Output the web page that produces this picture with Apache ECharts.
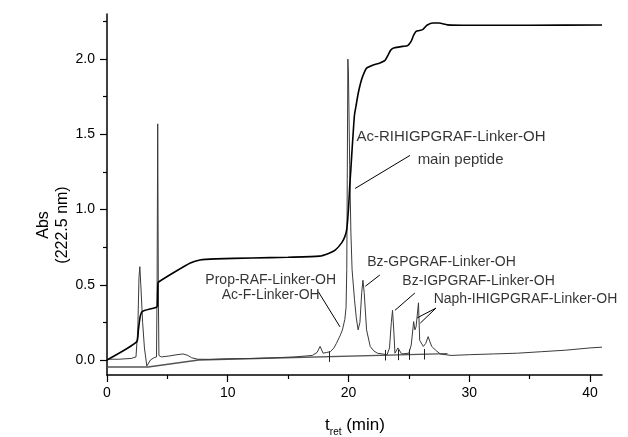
<!DOCTYPE html>
<html><head><meta charset="utf-8">
<script src="https://cdn.jsdelivr.net/npm/echarts@6/dist/echarts.min.js"></script>
<style>html,body{margin:0;padding:0;background:#fff}#c{width:628px;height:437px}</style>
</head><body><div id="c"></div>
<script>
// ---- data ----
const traceTime = [0,1,2,2.4,2.55,2.65,2.72,2.8,2.95,3.1,3.3,3.45,3.6,3.9,4.1,4.15,4.2,4.25,4.3,4.5,5.2,5.8,6.3,6.7,7.0,7.5,8.5,10,12,14,15.5,17,17.4,17.65,17.9,18.2,18.5,18.8,19.0,19.3,19.5,19.7,19.8,19.86,19.9,19.95,20.0,20.1,20.2,20.3,20.5,20.65,20.8,20.95,21.1,21.2,21.3,21.5,21.8,22.1,22.4,22.8,23.2,23.4,23.55,23.65,23.75,23.85,24.1,24.4,25.0,25.2,25.4,25.5,25.6,25.8,25.9,26.2,26.4,26.6,26.75,26.9,27.2,27.6,28.5,30,32,34,36,38,40,41];
const traceAbs  = [0.005,0.005,0.01,0.02,0.2,0.55,0.62,0.5,0.25,0.08,-0.04,-0.03,0.0,0.015,0.02,0.5,1.57,0.5,0.03,0.02,0.027,0.035,0.04,0.03,0.015,0.005,0.004,0.008,0.01,0.015,0.02,0.03,0.05,0.09,0.045,0.05,0.055,0.08,0.11,0.16,0.2,0.27,0.35,0.6,1.2,2.0,1.9,1.3,0.85,0.6,0.4,0.28,0.2,0.25,0.45,0.53,0.45,0.2,0.09,0.06,0.045,0.04,0.035,0.08,0.25,0.33,0.2,0.045,0.08,0.04,0.045,0.1,0.255,0.2,0.22,0.38,0.13,0.09,0.11,0.155,0.12,0.09,0.066,0.04,0.03,0.035,0.04,0.045,0.055,0.065,0.08,0.085];
const integTime = [0,2.45,2.6,2.75,2.9,3.15,3.6,4.1,4.17,4.22,4.3,5.5,6.9,7.7,9,12,15,17.6,18.4,18.9,19.45,19.7,19.86,20.0,20.1,20.2,20.3,20.4,20.5,20.65,20.8,21.0,21.2,21.5,22.0,22.6,23.0,23.3,23.5,23.8,24.5,24.9,25.2,25.4,25.6,25.9,26.2,26.5,27.0,27.5,28.2,30,35,41];
const integAbs  = [0,0.12,0.2,0.29,0.32,0.33,0.34,0.35,0.36,0.51,0.52,0.58,0.645,0.665,0.672,0.678,0.683,0.69,0.71,0.73,0.78,0.82,0.87,1.0,1.15,1.27,1.40,1.52,1.63,1.70,1.77,1.84,1.89,1.94,1.96,1.975,1.99,2.03,2.06,2.075,2.085,2.09,2.12,2.16,2.185,2.19,2.2,2.225,2.24,2.24,2.228,2.225,2.225,2.227];
const baselineTime = [0,3.4,7.6,28.2];
const baselineAbs  = [-0.047,-0.047,0.0,0.042];
const peakCuts = [18.4,23.05,24.1,25.05,26.3];
const xTickValues = [0,10,20,30,40];
const xMinorValues = [5,15,25,35];
const yTickValues = [0,0.5,1.0,1.5,2.0];
const yMinorValues = [0.25,0.75,1.25,1.75,2.25];
const peakNames = ['Ac-RIHIGPGRAF-Linker-OH','main peptide','Prop-RAF-Linker-OH','Ac-F-Linker-OH','Bz-GPGRAF-Linker-OH','Bz-IGPGRAF-Linker-OH','Naph-IHIGPGRAF-Linker-OH'];

// ---- annotation placement (data-space anchors) ----
const annotAnchors = [[20.7,1.48],[25.77,1.33],[13.6,0.53],[13.6,0.43],[21.6,0.645],[24.5,0.52],[27.1,0.40]];
const annotAlign = ['left','left','center','center','left','left','left'];
const annotSize = [15,15,14,14,14,14,14];
const leaders = [[[25.1,1.36],[20.55,1.14]],[[17.5,0.454],[19.3,0.22]],[[22.6,0.565],[21.4,0.49]],[[25.5,0.445],[23.85,0.33]],[[27.25,0.345],[25.7,0.28]],[[27.25,0.345],[25.95,0.245]]];

const FONT = 'Liberation Sans, Arial, Helvetica, sans-serif';
const zip = (a,b) => a.map((v,i)=>[v,b[i]]);
function baseAt(t){
  for(let i=0;i<baselineTime.length-1;i++){
    if(t>=baselineTime[i] && t<=baselineTime[i+1]){
      const f=(t-baselineTime[i])/(baselineTime[i+1]-baselineTime[i]);
      return baselineAbs[i]+f*(baselineAbs[i+1]-baselineAbs[i]);
    }
  }
  return baselineAbs[baselineAbs.length-1];
}
const cutLines = peakCuts.map(t=>[{coord:[t,baseAt(t)+0.035]},{coord:[t,baseAt(t)-0.035]}]);
const leaderLines = leaders.map(s=>[{coord:s[0]},{coord:s[1]}]);

const chart = echarts.init(document.getElementById('c'), null, {renderer:'canvas'});
const axisCommon = {type:'value', splitLine:{show:false}};
chart.setOption({
  animation:false,
  backgroundColor:'#fff',
  textStyle:{fontFamily:FONT},
  grid:{left:107,right:26,top:14,bottom:62},
  xAxis:[
    Object.assign({}, axisCommon, {min:0,max:41,position:'bottom',
      axisLine:{onZero:false,lineStyle:{color:'#000',width:1.5}},
      axisTick:{show:true,customValues:xMinorValues,length:4,lineStyle:{color:'#000',width:1.2}},
      axisLabel:{show:false}}),
    Object.assign({}, axisCommon, {min:0,max:41,position:'bottom',
      axisLine:{show:false,onZero:false},
      axisTick:{show:true,customValues:xTickValues,length:7,lineStyle:{color:'#000',width:1.2}},
      axisLabel:{customValues:xTickValues,fontSize:14,color:'#000',margin:11,fontFamily:FONT}})
  ],
  yAxis:[
    Object.assign({}, axisCommon, {min:-0.1,max:2.3,position:'left',
      axisLine:{show:true,onZero:false,lineStyle:{color:'#000',width:1.5}},
      axisTick:{show:true,customValues:yMinorValues,length:4,lineStyle:{color:'#000',width:1.2}},
      axisLabel:{show:false}}),
    Object.assign({}, axisCommon, {min:-0.1,max:2.3,position:'left',
      axisLine:{show:false,onZero:false},
      axisTick:{show:true,customValues:yTickValues,length:7,lineStyle:{color:'#000',width:1.2}},
      axisLabel:{customValues:yTickValues,fontSize:14,color:'#000',margin:12,fontFamily:FONT,
        formatter:v=>v.toFixed(1)}})
  ],
  series:[
    {type:'line',name:'baseline',data:zip(baselineTime,baselineAbs),showSymbol:false,
      lineStyle:{color:'#555',width:1.4},z:1,
      markLine:{silent:true,symbol:'none',label:{show:false},lineStyle:{color:'#222',width:1,type:'solid'},data:cutLines}},
    {type:'line',name:'chromatogram',data:zip(traceTime,traceAbs),showSymbol:false,
      lineStyle:{color:'#3a3a3a',width:1},z:2},
    {type:'line',name:'integral',data:zip(integTime,integAbs),showSymbol:false,smooth:0.2,
      lineStyle:{color:'#000',width:1.6},z:3,
      markLine:{silent:true,symbol:'none',label:{show:false},lineStyle:{color:'#000',width:1,type:'solid'},data:leaderLines}},
    {type:'scatter',name:'labels',symbolSize:1,itemStyle:{color:'rgba(0,0,0,0)'},z:5,
      data:annotAnchors.map((p,i)=>({value:p,label:{show:true,formatter:peakNames[i],position:[0,0],
        align:annotAlign[i],verticalAlign:'middle',fontSize:annotSize[i],color:'#000',fontFamily:FONT}}))}
  ],
  graphic:[
    {type:'text',x:53,y:225,rotation:Math.PI/2,style:{text:'Abs\n(222.5 nm)',font:'16px '+FONT,fill:'#000',
      align:'center',verticalAlign:'middle',lineHeight:19}},
    {type:'text',x:355,y:425,style:{text:'{a|t}{b|ret}{a| (min)}',align:'center',verticalAlign:'middle',
      rich:{a:{fontSize:17,fontFamily:FONT,fill:'#000',lineHeight:20,verticalAlign:'middle'},
            b:{fontSize:10,fontFamily:FONT,fill:'#000',lineHeight:20,padding:[14,0,0,0],verticalAlign:'middle'}}}}
  ]
});
</script></body></html>
